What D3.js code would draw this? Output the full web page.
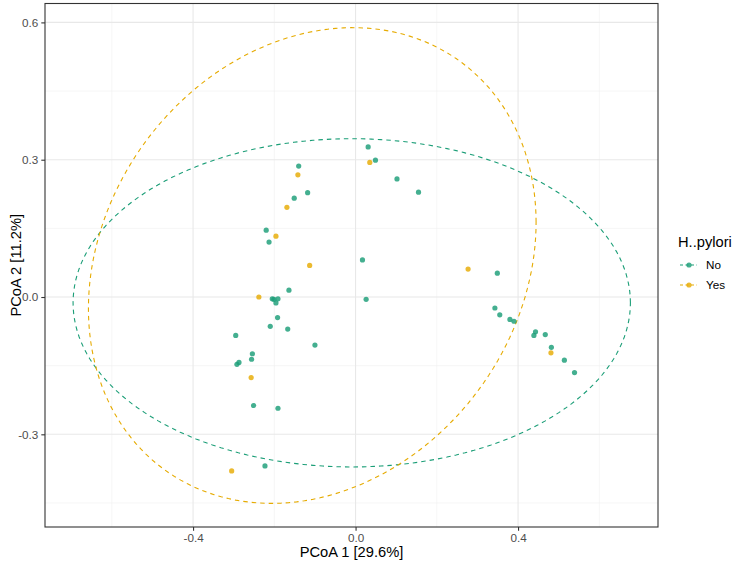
<!DOCTYPE html>
<html><head><meta charset="utf-8">
<script src="https://cdn.jsdelivr.net/npm/d3@7"></script>
<style>body{margin:0;background:#fff}svg{display:block}text{font-family:"Liberation Sans",Arial,sans-serif}</style>
</head><body>
<svg id="chart" width="740" height="567"></svg>
<script>
// Data
const groups = ["No", "Yes"];
const groupColors = ["#1b9e77", "#e6ab02"];
const noX = [-0.140,-0.118,-0.151,-0.220,-0.213,-0.164,-0.205,-0.201,-0.196,-0.191,-0.192,-0.210,-0.167,-0.295,-0.100,-0.254,-0.256,-0.287,-0.292,-0.251,-0.191,-0.223,
  0.031,0.049,0.102,0.155,0.017,0.026,0.349,0.343,0.355,0.380,0.390,0.443,0.439,0.467,0.482,0.514,0.539];
const noY = [0.286,0.228,0.216,0.146,0.120,0.015,-0.004,-0.005,-0.013,-0.004,-0.045,-0.064,-0.070,-0.084,-0.105,-0.124,-0.136,-0.143,-0.147,-0.237,-0.243,-0.369,
  0.328,0.299,0.258,0.229,0.081,-0.005,0.052,-0.024,-0.039,-0.049,-0.053,-0.076,-0.084,-0.082,-0.110,-0.138,-0.165];
const yesX = [-0.142,-0.169,-0.196,-0.113,-0.238,-0.257,-0.305,0.035,0.277,0.481];
const yesY = [0.267,0.196,0.133,0.069,0.000,-0.176,-0.380,0.294,0.061,-0.122];
// Ellipse shapes per group: centre, half-width (x), half-height (y), cross term
const ellCx = [-0.0094, -0.1066];
const ellCy = [-0.0127, 0.0688];
const ellHx = [0.686, 0.551];
const ellHy = [0.3586, 0.5197];
const ellCxy = [0.0, 0.052];
const xTicks = [-0.4, 0.0, 0.4];
const yTicks = [-0.3, 0.0, 0.3, 0.6];
const xMinor = [-0.6, -0.2, 0.2, 0.6];
const yMinor = [-0.45, -0.15, 0.15, 0.45];

const svg = d3.select("#chart");
const L = 45, T = 3.5, R = 658, B = 527;
const x = d3.scaleLinear().domain([-0.7645, 0.7445]).range([L, R]);
const y = d3.scaleLinear().domain([-0.5025, 0.6413]).range([B, T]);

const grid = svg.append("g");
grid.selectAll(".vmin").data(xMinor).join("line")
  .attr("x1", d => x(d)).attr("x2", d => x(d)).attr("y1", T).attr("y2", B)
  .attr("stroke", "#f0f0f0").attr("stroke-width", 0.6);
grid.selectAll(".hmin").data(yMinor).join("line")
  .attr("y1", d => y(d)).attr("y2", d => y(d)).attr("x1", L).attr("x2", R)
  .attr("stroke", "#f0f0f0").attr("stroke-width", 0.6);
grid.selectAll(".vmaj").data(xTicks).join("line")
  .attr("x1", d => x(d)).attr("x2", d => x(d)).attr("y1", T).attr("y2", B)
  .attr("stroke", "#e8e8e8").attr("stroke-width", 1.1);
grid.selectAll(".hmaj").data(yTicks).join("line")
  .attr("y1", d => y(d)).attr("y2", d => y(d)).attr("x1", L).attr("x2", R)
  .attr("stroke", "#e8e8e8").attr("stroke-width", 1.1);

// ellipses
const ts = d3.range(0, 361, 2).map(d => d * Math.PI / 180);
const line = d3.line().x(d => x(d[0])).y(d => y(d[1]));
groups.forEach((g, i) => {
  const c = ellCxy[i] / ellHx[i];
  const dd = Math.sqrt(ellHy[i] * ellHy[i] - c * c);
  const pts = ts.map(t => [ellCx[i] + ellHx[i] * Math.cos(t), ellCy[i] + c * Math.cos(t) + dd * Math.sin(t)]);
  svg.append("path").attr("d", line(pts)).attr("fill", "none")
    .attr("stroke", groupColors[i]).attr("stroke-width", 1.1).attr("stroke-dasharray", "4.5,4");
});

// points
const pts = [
  ...noX.map((v, i) => ({x: v, y: noY[i], g: 0})),
  ...yesX.map((v, i) => ({x: v, y: yesY[i], g: 1}))
];
svg.append("g").selectAll("circle").data(pts).join("circle")
  .attr("cx", d => x(d.x)).attr("cy", d => y(d.y)).attr("r", 2.6)
  .attr("fill", d => groupColors[d.g]).attr("fill-opacity", 0.82);

// panel border
svg.append("rect").attr("x", L).attr("y", T).attr("width", R - L).attr("height", B - T)
  .attr("fill", "none").attr("stroke", "#333333").attr("stroke-width", 1.1);

// axes
const xa = svg.append("g").attr("transform", `translate(0,${B})`)
  .call(d3.axisBottom(x).tickValues(xTicks).tickFormat(d3.format(".1f")).tickSize(3.7).tickPadding(3));
const ya = svg.append("g").attr("transform", `translate(${L},0)`)
  .call(d3.axisLeft(y).tickValues(yTicks).tickFormat(d3.format(".1f")).tickSize(3.7).tickPadding(3));
[xa, ya].forEach(a => {
  a.select(".domain").remove();
  a.selectAll(".tick line").attr("stroke", "#333333").attr("stroke-width", 1.1);
  a.selectAll(".tick text").attr("fill", "#4d4d4d").style("font-size", "11.7px")
    .style("font-family", "'Liberation Sans', Arial, sans-serif");
});
xa.selectAll(".tick text").text(d => d3.format(".1f")(d).replace("−", "-"));
ya.selectAll(".tick text").text(d => d3.format(".1f")(d).replace("−", "-"));

svg.append("text").attr("x", (L + R) / 2).attr("y", 557).attr("text-anchor", "middle")
  .style("font-size", "14.7px").attr("fill", "#000").text("PCoA 1 [29.6%]");
svg.append("text").attr("transform", `translate(21,${(T + B) / 2}) rotate(-90)`).attr("text-anchor", "middle")
  .style("font-size", "14.7px").attr("fill", "#000").text("PCoA 2 [11.2%]");

// legend
const lg = svg.append("g");
lg.append("text").attr("x", 678).attr("y", 247).style("font-size", "14.7px").attr("fill", "#000").text("H..pylori");
groups.forEach((g, i) => {
  const yy = 265 + i * 20;
  lg.append("line").attr("x1", 680).attr("x2", 697).attr("y1", yy).attr("y2", yy)
    .attr("stroke", groupColors[i]).attr("stroke-width", 1.1).attr("stroke-dasharray", "3,2.5");
  lg.append("circle").attr("cx", 689).attr("cy", yy).attr("r", 2.6).attr("fill", groupColors[i]).attr("fill-opacity", 0.82);
  lg.append("text").attr("x", 706).attr("y", yy + 4.2).style("font-size", "11.7px").attr("fill", "#000").text(g);
});
</script>
</body></html>
